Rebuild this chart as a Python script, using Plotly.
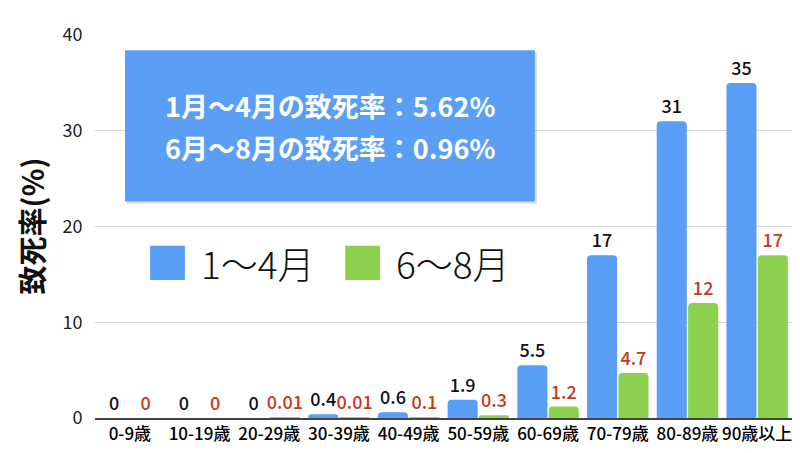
import plotly.graph_objects as go

age_groups = ["0-9歳", "10-19歳", "20-29歳", "30-39歳", "40-49歳",
              "50-59歳", "60-69歳", "70-79歳", "80-89歳", "90歳以上"]
rate_jan_apr = [0, 0, 0, 0.4, 0.6, 1.9, 5.5, 17, 31, 35]
rate_jun_aug = [0, 0, 0.01, 0.01, 0.1, 0.3, 1.2, 4.7, 12, 17]
label_jan_apr = ["0", "0", "0", "0.4", "0.6", "1.9", "5.5", "17", "31", "35"]
label_jun_aug = ["0", "0", "0.01", "0.01", "0.1", "0.3", "1.2", "4.7", "12", "17"]
series_names = ["1〜4月", "6〜8月"]
summary_lines = ["1月〜4月の致死率：5.62%", "6月〜8月の致死率：0.96%"]
y_title = "致死率(%)"

FONT = "Noto Sans CJK JP"
BLUE = "#5a9ff7"
GREEN = "#8dd24e"
RED = "#c23a1c"

fig = go.Figure()
fig.add_trace(go.Bar(
    x=age_groups, y=rate_jan_apr, name=series_names[0],
    marker=dict(color=BLUE, cornerradius=4, line=dict(width=0)),
    text=label_jan_apr, textposition="outside", constraintext="none",
    textfont=dict(family=FONT, size=18, color="#111111", weight=500),
    cliponaxis=False,
))
fig.add_trace(go.Bar(
    x=age_groups, y=rate_jun_aug, name=series_names[1],
    marker=dict(color=GREEN, cornerradius=4, line=dict(width=0)),
    text=label_jun_aug, textposition="outside", constraintext="none",
    textfont=dict(family=FONT, size=18, color=RED, weight=500),
    cliponaxis=False,
))

# summary box (with a faint drop shadow)
fig.add_shape(type="rect", xref="paper", yref="y",
              x0=0.046, x1=0.634, y0=22.4, y1=38.2,
              fillcolor="rgba(0,0,0,0.15)", line=dict(width=0), layer="above")
fig.add_shape(type="rect", xref="paper", yref="y",
              x0=0.043, x1=0.631, y0=22.6, y1=38.4,
              fillcolor="#5b9ef5", line=dict(width=0), layer="above")
for line, yv in zip(summary_lines, [32.6, 28.2]):
    fig.add_annotation(xref="paper", yref="y", x=0.337, y=yv,
                       text=line, showarrow=False,
                       font=dict(family=FONT, size=27, color="white",
                                 weight="bold"))

# big legend
legend_items = [(0.079, BLUE, series_names[0]), (0.359, GREEN, series_names[1])]
for x0, col, name in legend_items:
    fig.add_shape(type="rect", xref="paper", yref="y",
                  x0=x0, x1=x0 + 0.05, y0=14.4, y1=18.0,
                  fillcolor=col, line=dict(width=0))
    fig.add_annotation(xref="paper", yref="y", x=x0 + 0.07, y=16.2,
                       xanchor="left", text=name, showarrow=False,
                       font=dict(family=FONT, size=37, color="#111111",
                                 weight=300))

# y-axis title
fig.add_annotation(xref="paper", yref="paper", x=0, y=0.5,
                   xanchor="center", yanchor="middle", xshift=-65,
                   text="<b>" + y_title + "</b>", textangle=-90,
                   showarrow=False, borderpad=0,
                   font=dict(family=FONT, size=29, color="#111111"))

fig.update_layout(
    width=792, height=445,
    margin=dict(l=87, r=8, t=27, b=35),
    paper_bgcolor="white", plot_bgcolor="white",
    barmode="group", bargap=0.1, bargroupgap=0.04,
    showlegend=False,
    font=dict(family=FONT, color="#111111"),
    xaxis=dict(tickfont=dict(family=FONT, size=17, color="#000000",
                             weight=500),
               tickangle=0,
               showline=True, linecolor="#444444", linewidth=1.5,
               ticks=""),
    yaxis=dict(range=[0, 40], tickvals=[0, 10, 20, 30, 40],
               tickfont=dict(family=FONT, size=18, color="#222222"),
               gridcolor="#d6d6d6", zeroline=False,
               ticks="outside", ticklen=8, tickcolor="white"),
)

fig.write_html("out.html")
